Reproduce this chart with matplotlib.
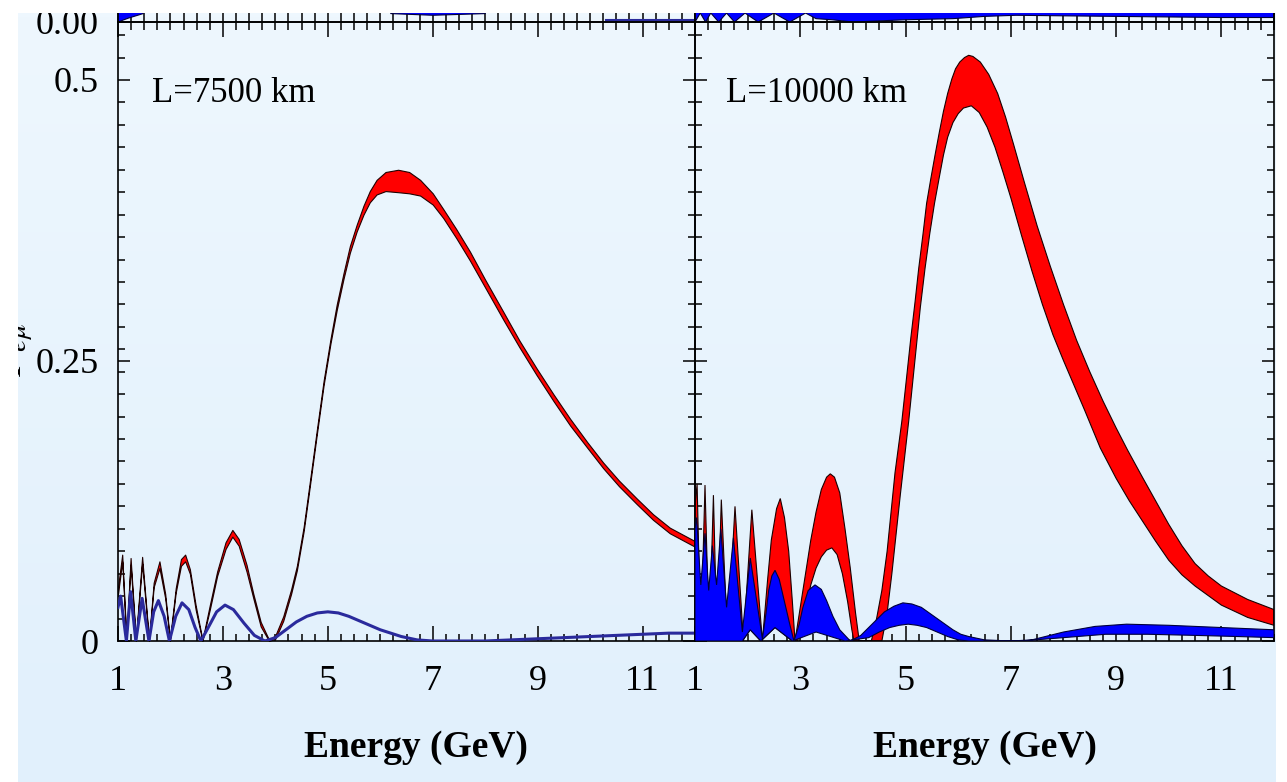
import numpy as np
import matplotlib
matplotlib.use('Agg')
import matplotlib.pyplot as plt
from matplotlib.ticker import FixedLocator, MultipleLocator
from matplotlib.patches import Rectangle

plt.rcParams['font.family'] = ['Liberation Serif', 'DejaVu Serif']
plt.rcParams['mathtext.fontset'] = 'stix'

# ---- data ----
panel_titles = ['L=7500 km', 'L=10000 km']
x_major = [1, 3, 5, 7, 9, 11]
y_major = [0, 0.25, 0.5]
y_major_labels = ['0', '0.25', '0.5']

# L = 7500 km, red band (upper / lower edge on a common energy grid)
e7_red = [1.00, 1.08, 1.16, 1.24, 1.34, 1.46, 1.59, 1.68, 1.79, 1.90,
          1.99, 2.10, 2.20, 2.28, 2.37, 2.48, 2.61, 2.75, 2.89, 3.05,
          3.18, 3.30, 3.45, 3.58, 3.72, 3.88, 4.00, 4.15, 4.30, 4.41,
          4.54, 4.66, 4.79, 4.92, 5.05, 5.17, 5.30, 5.42, 5.55, 5.68,
          5.80, 5.93, 6.10, 6.34, 6.55, 6.76, 7.00, 7.20, 7.45, 7.71,
          8.00, 8.35, 8.65, 8.98, 9.30, 9.62, 9.95, 10.25, 10.55, 10.89,
          11.20, 11.52, 11.80, 12.00]
hi7_red = [0.048, 0.077, 0.001, 0.074, 0.001, 0.075, 0.001, 0.052, 0.071, 0.042,
           0.001, 0.047, 0.073, 0.077, 0.064, 0.032, 0.001, 0.032, 0.062, 0.088,
           0.099, 0.091, 0.068, 0.042, 0.017, 0.001, 0.005, 0.022, 0.046, 0.067,
           0.102, 0.143, 0.188, 0.232, 0.269, 0.300, 0.328, 0.352, 0.371, 0.388,
           0.401, 0.411, 0.418, 0.420, 0.418, 0.411, 0.399, 0.385, 0.367, 0.347,
           0.322, 0.293, 0.268, 0.243, 0.220, 0.198, 0.177, 0.159, 0.143, 0.127,
           0.113, 0.101, 0.094, 0.089]
lo7_red = [0.042, 0.071, 0.000, 0.068, 0.000, 0.069, 0.000, 0.048, 0.065, 0.038,
           0.000, 0.043, 0.067, 0.071, 0.060, 0.028, 0.000, 0.028, 0.058, 0.082,
           0.093, 0.085, 0.062, 0.038, 0.013, 0.000, 0.002, 0.018, 0.042, 0.063,
           0.098, 0.139, 0.184, 0.228, 0.265, 0.295, 0.323, 0.346, 0.365, 0.380,
           0.391, 0.398, 0.401, 0.400, 0.399, 0.397, 0.389, 0.377, 0.359, 0.339,
           0.315, 0.286, 0.262, 0.237, 0.214, 0.192, 0.172, 0.154, 0.138, 0.122,
           0.108, 0.096, 0.089, 0.084]

# L = 7500 km, blue (very thin band, drawn as a line)
e7_blue = [1.00, 1.05, 1.16, 1.24, 1.34, 1.46, 1.59, 1.68, 1.77, 1.88,
           1.98, 2.10, 2.22, 2.35, 2.47, 2.58, 2.72, 2.88, 3.04, 3.20,
           3.40, 3.60, 3.80, 4.00, 4.20, 4.40, 4.60, 4.80, 5.00, 5.20,
           5.40, 5.60, 5.80, 6.00, 6.20, 6.40, 6.70, 7.00, 7.50, 8.00,
           8.50, 9.00, 9.50, 10.0, 10.5, 11.0, 11.5, 12.0]
p7_blue = [0.030, 0.040, 0.000, 0.044, 0.000, 0.038, 0.000, 0.026, 0.036, 0.022,
           0.000, 0.022, 0.034, 0.028, 0.012, 0.000, 0.012, 0.026, 0.032, 0.028,
           0.016, 0.005, 0.000, 0.003, 0.010, 0.017, 0.022, 0.025, 0.026, 0.025,
           0.022, 0.018, 0.014, 0.010, 0.007, 0.004, 0.001, 0.000, 0.000, 0.000,
           0.001, 0.002, 0.003, 0.004, 0.005, 0.006, 0.007, 0.007]

# L = 10000 km, red band edges
e10_red_hi = [1.00, 1.04, 1.11, 1.19, 1.27, 1.35, 1.42, 1.50, 1.62, 1.76,
              1.92, 2.08, 2.28, 2.38, 2.45, 2.55, 2.62, 2.70, 2.78, 2.85,
              2.90, 3.00, 3.10, 3.20, 3.30, 3.40, 3.50, 3.57, 3.65, 3.75,
              3.85, 3.95, 4.05, 4.12, 4.35, 4.45, 4.55, 4.65, 4.80,
              4.93, 5.02, 5.10, 5.18, 5.25, 5.33, 5.40, 5.48, 5.56, 5.64,
              5.72, 5.80, 5.88, 5.95, 6.03, 6.12, 6.20, 6.28, 6.42, 6.58,
              6.75, 6.90, 7.05, 7.25, 7.50, 7.75, 8.00, 8.25, 8.50, 8.75,
              9.00, 9.22, 9.50, 9.75, 10.00, 10.25, 10.50, 10.75, 11.00, 11.50,
              12.00]
p10_red_hi = [0.120, 0.140, 0.000, 0.139, 0.000, 0.130, 0.000, 0.126, 0.000, 0.120,
              0.000, 0.117, 0.000, 0.055, 0.090, 0.118, 0.127, 0.110, 0.080, 0.035,
              0.000, 0.030, 0.060, 0.090, 0.115, 0.135, 0.146, 0.149, 0.146, 0.132,
              0.100, 0.065, 0.025, 0.000, 0.000, 0.020, 0.045, 0.080, 0.150,
              0.196, 0.235, 0.270, 0.302, 0.332, 0.362, 0.390, 0.412, 0.433, 0.453,
              0.472, 0.488, 0.501, 0.510, 0.516, 0.520, 0.522, 0.521, 0.516, 0.505,
              0.488, 0.467, 0.443, 0.410, 0.370, 0.334, 0.300, 0.268, 0.240, 0.214,
              0.190, 0.170, 0.146, 0.125, 0.104, 0.085, 0.069, 0.058, 0.049, 0.037,
              0.028]
e10_red_lo = [1.00, 1.90, 2.05, 2.25, 2.52, 2.85, 2.95, 3.10, 3.20, 3.30,
              3.40, 3.50, 3.60, 3.70, 3.80, 3.90, 3.98, 4.02, 4.55, 4.65,
              4.74, 4.90, 5.06, 5.20, 5.28,
              5.37, 5.46, 5.55, 5.64, 5.72, 5.80, 5.90, 6.00, 6.10, 6.25,
              6.40, 6.55, 6.70, 6.85, 7.00, 7.20, 7.40, 7.60, 7.80, 8.00,
              8.20, 8.40, 8.70, 9.00, 9.25, 9.50, 9.75, 10.00, 10.25, 10.50,
              11.00, 11.50, 12.00]
p10_red_lo = [0.000, 0.000, 0.010, 0.000, 0.012, 0.000, 0.000, 0.028, 0.050, 0.065,
              0.075, 0.081, 0.083, 0.077, 0.060, 0.035, 0.010, 0.000, 0.000, 0.025,
              0.060, 0.130, 0.196, 0.260, 0.297,
              0.332, 0.363, 0.390, 0.413, 0.433, 0.449, 0.462, 0.470, 0.475, 0.477,
              0.471, 0.458, 0.440, 0.418, 0.395, 0.362, 0.330, 0.300, 0.273, 0.250,
              0.228, 0.206, 0.172, 0.145, 0.125, 0.107, 0.089, 0.072, 0.059, 0.049,
              0.032, 0.021, 0.014]

# L = 10000 km, blue band edges
e10_blue_hi = [1.00, 1.03, 1.11, 1.19, 1.26, 1.33, 1.41, 1.49, 1.60, 1.73,
               1.90, 2.05, 2.28, 2.35, 2.40, 2.46, 2.52, 2.60, 2.70, 2.80,
               2.88, 2.98, 3.05, 3.15, 3.28, 3.40, 3.50, 3.62, 3.75, 3.95,
               4.15, 4.30, 4.45, 4.60, 4.78, 4.95, 5.12, 5.30, 5.45, 5.60,
               5.75, 5.90, 6.05, 6.20, 6.50, 7.00, 7.40, 8.00, 8.60, 9.20,
               10.00, 11.00, 12.00]
p10_blue_hi = [0.100, 0.110, 0.050, 0.096, 0.045, 0.085, 0.050, 0.100, 0.030, 0.092,
               0.008, 0.074, 0.002, 0.025, 0.045, 0.058, 0.063, 0.055, 0.035, 0.015,
               0.000, 0.015, 0.030, 0.045, 0.050, 0.046, 0.036, 0.022, 0.010, 0.000,
               0.005, 0.012, 0.019, 0.026, 0.031, 0.034, 0.033, 0.030, 0.025, 0.020,
               0.015, 0.010, 0.006, 0.004, 0.001, 0.000, 0.001, 0.008, 0.013, 0.015,
               0.014, 0.012, 0.010]
e10_blue_lo = [1.00, 1.90, 2.05, 2.25, 2.52, 2.85, 3.30, 3.85, 4.30, 4.50,
               4.70, 4.88, 5.05, 5.22, 5.40, 5.60, 5.80, 6.00, 6.20, 7.20,
               8.00, 8.80, 9.60, 10.50, 11.30, 12.00]
p10_blue_lo = [0.000, 0.000, 0.010, 0.000, 0.012, 0.000, 0.008, 0.000, 0.003, 0.008,
               0.012, 0.014, 0.015, 0.014, 0.012, 0.008, 0.004, 0.001, 0.000, 0.000,
               0.003, 0.006, 0.006, 0.005, 0.004, 0.003]

# bottom edge of the (cropped) panels above
top_left_e = [1.00, 1.20, 1.48]
top_left_lo = [0.000, 0.0035, 0.0075]
top_left_e2 = [6.2, 7.0, 8.0]
top_left_lo2 = [0.0075, 0.006, 0.0075]
top_right_e = [1.0, 1.1, 1.2, 1.3, 1.45, 1.6, 1.75, 1.95, 2.2, 2.5, 2.8, 3.1, 3.3,
               3.6, 4.0, 4.5, 5.0, 5.9, 6.5, 7.1, 8.0, 9.0, 10.0, 11.0, 12.0]
top_right_lo = [0.0, 0.008, 0.0, 0.008, 0.0, 0.008, 0.0, 0.008, 0.0, 0.008, 0.0, 0.008, 0.003,
                0.002, 0.0, 0.001, 0.002, 0.003, 0.005, 0.006, 0.0055, 0.005, 0.0045, 0.004, 0.004]

W, H = 1287, 782
PX = 1122.0  # pixels per unit of probability
fig = plt.figure(figsize=(W / 100, H / 100), dpi=100)
fig.patch.set_facecolor('white')

# light blue slide background
bg = fig.add_axes([18 / W, 0, (1276 - 18) / W, (H - 13) / H], zorder=-10)
c_top = np.array([238, 247, 254]) / 255
c_bot = np.array([225, 240, 252]) / 255
t = np.linspace(0, 1, 200)[:, None, None]
bg.imshow(c_top * (1 - t) + c_bot * t, aspect='auto')
bg.axis('off')


def band(ax, e_hi, p_hi, e_lo, p_lo, face, edge, lw=0.8, z=2):
    xs = np.concatenate([np.asarray(e_hi), np.asarray(e_lo)[::-1]])
    ys = np.concatenate([np.asarray(p_hi), np.asarray(p_lo)[::-1]])
    ax.fill(xs, ys, facecolor=face, edgecolor=edge, linewidth=lw, zorder=z)


def style(ax, left_labels):
    ax.set_facecolor('none')
    ax.set_xlim(1, 12)
    ax.set_ylim(0, (641 - 22) / PX)
    ax.xaxis.set_major_locator(FixedLocator(x_major))
    ax.xaxis.set_minor_locator(MultipleLocator(0.25))
    ax.yaxis.set_major_locator(FixedLocator(y_major))
    ax.yaxis.set_minor_locator(MultipleLocator(0.02))
    ax.set_yticklabels(y_major_labels)
    ax.tick_params(which='both', direction='in', top=True, right=True,
                   width=1.1, colors='black', labelsize=26)
    ax.tick_params(axis='x', which='major', length=10.5, pad=17)
    ax.tick_params(axis='x', which='minor', length=5.4)
    ax.tick_params(axis='y', which='major', length=8.5, pad=14)
    ax.tick_params(axis='y', which='minor', length=5.0)
    ax.tick_params(axis='y', labelleft=left_labels)
    for s in ax.spines.values():
        s.set_linewidth(1.2)


ax1 = fig.add_axes([118 / W, (H - 641) / H, (695 - 118) / W, (641 - 22) / H])
ax2 = fig.add_axes([695 / W, (H - 641) / H, (1274 - 695) / W, (641 - 22) / H])
style(ax1, True)
style(ax2, False)

# left panel
ax1.fill_between(e7_red, lo7_red, hi7_red, facecolor='#ff0000',
                 edgecolor='#200000', linewidth=0.8, zorder=2)
ax1.plot(e7_blue, p7_blue, color='#2a2a9c', lw=2.2, zorder=3)

# right panel
band(ax2, e10_red_hi, p10_red_hi, e10_red_lo, p10_red_lo, '#ff0000', '#1a0000')
band(ax2, e10_blue_hi, p10_blue_hi, e10_blue_lo, p10_blue_lo, '#0000ff', '#00003a', z=3)

for ax, title, tx, cx in [(ax1, panel_titles[0], 0.059, 0.516),
                          (ax2, panel_titles[1], 0.0535, 0.501)]:
    ax.text(tx, (641 - 102) / 619, title,
            transform=ax.transAxes, fontsize=25, va='baseline', ha='left')
    ax.text(cx, (641 - 757) / 619, 'Energy (GeV)', transform=ax.transAxes,
            fontsize=27, fontweight='bold', ha='center', va='baseline')

# cropped panels above
for k, (x0, x1) in enumerate([(118, 695), (695, 1274)]):
    axt = fig.add_axes([x0 / W, (H - 22) / H, (x1 - x0) / W, 22 / H])
    axt.set_facecolor('none')
    axt.set_xlim(1, 12)
    axt.set_ylim(0, 22 / PX)
    axt.spines['top'].set_visible(False)
    axt.spines['right'].set_visible(k == 1)
    for s in axt.spines.values():
        s.set_linewidth(1.2)
    axt.xaxis.set_major_locator(FixedLocator(x_major))
    axt.xaxis.set_minor_locator(MultipleLocator(0.25))
    axt.tick_params(which='both', direction='in', width=1.1, length=8,
                    labelbottom=False)
    if k == 0:
        axt.yaxis.set_major_locator(FixedLocator([0]))
        axt.set_yticklabels(['0.00'])
        axt.tick_params(axis='y', labelsize=26, pad=14, length=8.5)
        band(axt, [1.0, 1.48], [0.03, 0.03], top_left_e, top_left_lo, '#0000ff', '#00003a')
        band(axt, [6.2, 8.0], [0.03, 0.03], top_left_e2, top_left_lo2, '#0000ff', '#00003a')
        axt.plot([10.3, 12.0], [0.0015, 0.0015], color='#2a2a9c', lw=1.5)
    else:
        axt.yaxis.set_major_locator(FixedLocator([]))
        band(axt, [1.0, 12.0], [0.03, 0.03], top_right_e, top_right_lo, '#0000ff', '#00003a')

# y label, mostly cut off by the crop on the left
fig.text(21 / W, 1 - 350 / H, r'$P_{e\mu}$', rotation=90, rotation_mode='anchor',
         ha='center', va='baseline', fontsize=30)

# white margins outside the slide
for rect in [(0, 0, 18 / W, 1), (0, 1 - 13 / H, 1, 13 / H), (1276 / W, 0, 1, 1)]:
    fig.add_artist(Rectangle(rect[:2], rect[2], rect[3], transform=fig.transFigure,
                             facecolor='white', edgecolor='none', zorder=50))

fig.savefig('out.png', dpi=100)
